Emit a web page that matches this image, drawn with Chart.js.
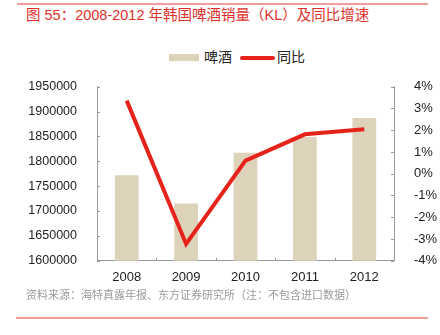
<!DOCTYPE html>
<html><head><meta charset="utf-8">
<script src="https://cdn.jsdelivr.net/npm/chart.js@4"></script>
<style>
html,body{margin:0;padding:0;background:#fff;}
#wrap{position:relative;width:440px;height:335px;overflow:hidden;font-family:"Liberation Sans","Noto Sans CJK SC",sans-serif;}
canvas{position:absolute;left:0;top:0;}
.rule{position:absolute;height:2px;background:#f29b9b;}
#title{position:absolute;left:26px;top:6px;font-size:14.5px;color:#e0302a;white-space:nowrap;line-height:18px;}
#source{position:absolute;left:26px;top:287px;font-size:11px;color:#9a9a9a;white-space:nowrap;line-height:16px;}
.lg{position:absolute;font-size:14px;color:#222;line-height:16px;top:49px;white-space:nowrap;}
.sw{position:absolute;}
</style></head>
<body><div id="wrap">
<div class="rule" style="left:17px;top:3px;width:411px;"></div>
<div id="title">图 55：2008-2012 年韩国啤酒销量（KL）及同比增速</div>
<div class="sw" style="left:169px;top:54px;width:30px;height:7px;background:#ddd3bb;"></div>
<div class="lg" style="left:204px;">啤酒</div>
<div class="sw" style="left:240px;top:56px;width:35px;height:4px;background:#e5231b;border-radius:2px;"></div>
<div class="lg" style="left:277px;">同比</div>
<canvas id="c" width="440" height="335"></canvas>
<div id="source">资料来源：海特真露年报、东方证券研究所（注：不包含进口数据）</div>
<div class="rule" style="left:16px;top:317px;width:412px;"></div>
</div>
<script>
const categories = ['2008','2009','2010','2011','2012'];
const beerVolume = [1772000, 1715000, 1817000, 1849000, 1887000];
const yoyGrowth = [3.36, -3.23, 0.60, 1.81, 2.04];
const leftTicks = [1600000,1650000,1700000,1750000,1800000,1850000,1900000,1950000];
const rightTicks = [-4,-3,-2,-1,0,1,2,3,4];

const font = {family:'"Liberation Sans", Arial, sans-serif', size:12.5};
const inwardTicks = {
  id:'inwardTicks',
  afterDatasetsDraw(chart){
    const ctx = chart.ctx, a = chart.chartArea;
    ctx.save();
    ctx.strokeStyle = '#999'; ctx.lineWidth = 1;
    ctx.beginPath();
    const y = chart.scales.y, y1 = chart.scales.y1;
    y.ticks.forEach((t,i)=>{const p=Math.round(y.getPixelForTick(i))+0.5; ctx.moveTo(a.left,p); ctx.lineTo(a.left+3,p);});
    y1.ticks.forEach((t,i)=>{const p=Math.round(y1.getPixelForTick(i))+0.5; ctx.moveTo(a.right,p); ctx.lineTo(a.right-3,p);});
    for(let i=0;i<=categories.length;i++){
      const p = Math.round(a.left + (a.right-a.left)*i/categories.length)+0.5;
      ctx.moveTo(p,a.bottom); ctx.lineTo(p,a.bottom-3);
    }
    ctx.stroke();
    ctx.restore();
  }
};

new Chart(document.getElementById('c'), {
  data:{
    labels:categories,
    datasets:[
      {type:'line', label:'同比', data:yoyGrowth, yAxisID:'y1', borderColor:'#e5231b', backgroundColor:'#e5231b', borderWidth:4, pointRadius:0, tension:0, order:0},
      {type:'bar', label:'啤酒', data:beerVolume, yAxisID:'y', backgroundColor:'#ddd3bb', categoryPercentage:1, barPercentage:0.4, order:1}
    ]
  },
  options:{
    responsive:false, animation:false,
    layout:{padding:{top:86.7,left:0,right:0,bottom:0}},
    plugins:{legend:{display:false}, tooltip:{enabled:false}},
    scales:{
      x:{grid:{display:false}, border:{display:true,color:'#999'}, ticks:{color:'#222',font:{...font,size:13},padding:1},
         afterFit(s){s.height=74.3;}},
      y:{position:'left', min:1600000, max:1950000, grid:{display:false}, border:{display:true,color:'#999'},
         afterBuildTicks(s){s.ticks = leftTicks.map(v=>({value:v}));},
         ticks:{color:'#222',font,padding:12, callback:v=>String(v)},
         afterFit(s){s.width=97;}},
      y1:{position:'right', min:-4, max:4, grid:{display:false}, border:{display:true,color:'#999'},
         afterBuildTicks(s){s.ticks = rightTicks.map(v=>({value:v}));},
         ticks:{color:'#222',font:{...font,size:13},padding:12, callback:v=>v+'%'},
         afterFit(s){s.width=46;}}
    }
  },
  plugins:[inwardTicks]
});
</script>
</body></html>
